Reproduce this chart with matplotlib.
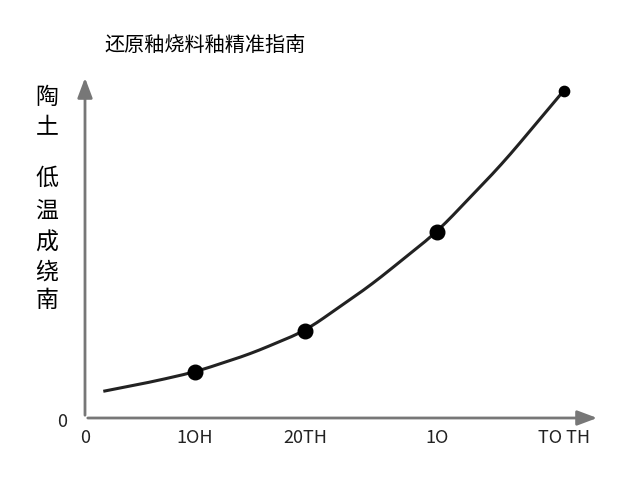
import numpy as np
import matplotlib.pyplot as plt

plt.rcParams['font.family'] = ['Noto Sans CJK SC', 'DejaVu Sans']

# 曲线数据
curve_x = [0.18, 0.6, 1.0, 1.5, 2.0, 2.6, 3.2, 3.8, 4.35]
curve_y = [0.27, 0.36, 0.46, 0.64, 0.87, 1.33, 1.86, 2.55, 3.27]
point_x = [1.0, 2.0, 3.2, 4.35]
point_y = [0.46, 0.87, 1.86, 3.27]
tick_pos = [0, 1.0, 2.0, 3.2, 4.35]
tick_labels = ['0', '1OH', '20TH', '1O', 'TO TH']
title = '还原釉烧料釉精准指南'
ylabel_chars = ['陶', '土', '', '低', '温', '成', '绕', '南']

fig = plt.figure(figsize=(6.4, 4.8), dpi=100)
ax = fig.add_axes([85/640, 62/480, 515/640, 343/480])
ax.set_xlim(0, 515/110)
ax.set_ylim(0, 3.43)
for s in ax.spines.values():
    s.set_visible(False)
ax.set_xticks([])
ax.set_yticks([])

# 坐标轴箭头
arrow = dict(arrowstyle='-|>,head_length=1.2,head_width=0.45', color='#777777', lw=2)
ax.annotate('', xy=(1.0, 0), xytext=(0, 0), xycoords='axes fraction', arrowprops=arrow)
ax.annotate('', xy=(0, 1.0), xytext=(0, 0), xycoords='axes fraction', arrowprops=arrow)

# 平滑曲线
xs = np.linspace(curve_x[0], curve_x[-1], 200)
ys = np.interp(xs, curve_x, curve_y)
k = np.ones(15) / 15
ys_s = np.convolve(np.pad(ys, 7, mode='reflect', reflect_type='odd'), k, mode='valid')
ax.plot(xs, ys_s, color='#222222', lw=2.2, clip_on=False)
ax.scatter(point_x[:-1], point_y[:-1], s=110, color='black', zorder=3, clip_on=False)
ax.scatter(point_x[-1:], point_y[-1:], s=55, color='black', zorder=3, clip_on=False)

for p, lab in zip(tick_pos, tick_labels):
    ax.text(p, -0.2, lab, ha='center', va='center', fontsize=13, color='#222222')
ax.text(-0.21, -0.04, '0', ha='center', va='center', fontsize=13, color='#222222')

fig.text(105/640, 1 - 45/480, title, ha='left', va='center', fontsize=14.5, fontweight='medium')
ys_lab = [97, 128, 153, 178, 212, 243, 272, 300]
for c, yp in zip(ylabel_chars, ys_lab):
    if c:
        fig.text(47/640, 1 - yp/480, c, ha='center', va='center', fontsize=16.5)

fig.savefig('out.png', dpi=100)
